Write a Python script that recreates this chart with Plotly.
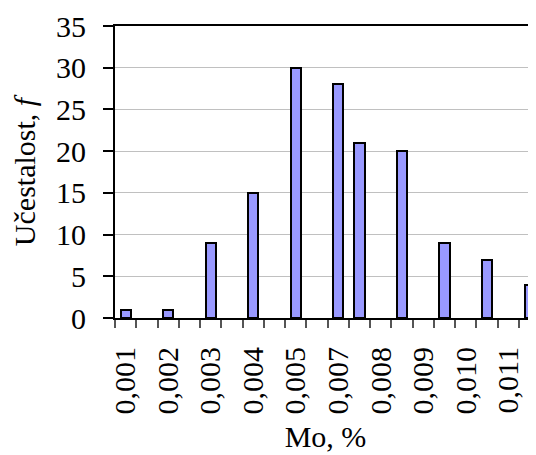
import plotly.graph_objects as go

# 20 bin categories (Mo, %), every second one labelled
categories = ["0,00100", "0,00155", "0,00210", "0,00265", "0,00320", "0,00375",
              "0,00430", "0,00485", "0,00540", "0,00595", "0,00650", "0,00705",
              "0,00760", "0,00815", "0,00870", "0,00925", "0,00980", "0,01035",
              "0,01090", "0,01145"]
frequency = [1, 0, 1, 0, 9, 0, 15, 0, 30, 0, 28, 21, 0, 20, 0, 9, 0, 7, 0, 4]
tick_labels = ["0,001", "0,002", "0,003", "0,004", "0,005",
               "0,007", "0,008", "0,009", "0,010", "0,011"]
tick_positions = categories[::2]

# only non-empty bins get a bar (empty bins draw nothing)
bar_x = [i for i, v in enumerate(frequency) if v > 0]
bar_y = [frequency[i] for i in bar_x]
bar_text = [categories[i] for i in bar_x]
tickvals = [categories.index(c) for c in tick_positions]

FONT = "Times New Roman, Liberation Serif, Times, serif"

fig = go.Figure(go.Bar(
    x=bar_x, y=bar_y, width=0.48,
    marker=dict(color="#9999ff", line=dict(color="black", width=2)),
    hovertext=bar_text,
))

# page body has an 8px margin, so the figure is drawn 8px smaller/offset
fig.update_layout(
    width=528, height=447,
    margin=dict(l=107, r=0, t=18, b=137),
    plot_bgcolor="white", paper_bgcolor="white",
    font=dict(family=FONT, size=30, color="black"),
    showlegend=False,
    bargap=0,
)
fig.update_xaxes(
    range=[-0.5, 19.3],
    tickmode="array", tickvals=tickvals, ticktext=tick_labels,
    tickangle=-90, ticks="", ticklen=0,
    ticklabelstandoff=15,
    minor=dict(ticks="outside", ticklen=8, tickcolor="#555555", tickwidth=1.5,
               tick0=-0.5, dtick=1, showgrid=False),
    showline=True, linecolor="black", linewidth=2, mirror=True,
    showgrid=False, zeroline=False,
    title=dict(text="Mo, %", font=dict(family=FONT, size=30), standoff=12),
    automargin=False,
)
fig.update_yaxes(
    range=[0, 35], tickmode="linear", tick0=0, dtick=5,
    ticks="outside", ticklen=10, tickcolor="black", tickwidth=1.5,
    ticklabelstandoff=11,
    showline=True, linecolor="black", linewidth=2, mirror=False,
    showgrid=True, gridcolor="#c0c0c0", gridwidth=1, zeroline=False,
    title=dict(text="Učestalost, <i>f</i>", font=dict(family=FONT, size=30), standoff=20),
    automargin=False,
)

fig.write_html("out.html")
